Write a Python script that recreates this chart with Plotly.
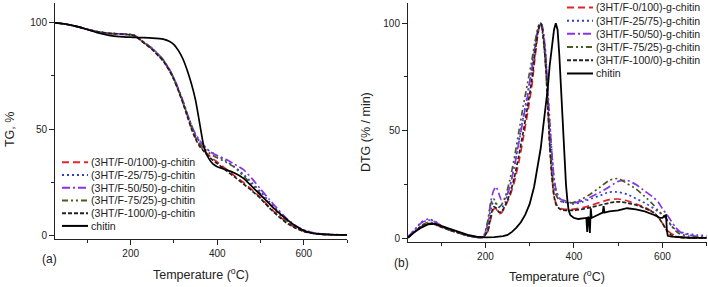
import plotly.graph_objects as go

W, H = 708, 287

names = ["(3HT/F-0/100)-g-chitin", "(3HT/F-25/75)-g-chitin", "(3HT/F-50/50)-g-chitin",
         "(3HT/F-75/25)-g-chitin", "(3HT/F-100/0)-g-chitin", "chitin"]
colors = ["#e3242b", "#2a3ee0", "#8833e8", "#4a5a23", "#222222", "#000000"]
dashes = ["7px,4px", "2px,3px", "8px,3px,2px,3px", "6px,3px,2px,3px,2px,3px", "4px,2px", "solid"]

# ---------------- TG data (panel a) ----------------
tg_temp = [25, 50, 75, 100, 125, 150, 175, 200, 210, 225, 250, 275, 290, 300, 310, 320, 330, 340,
           350, 360, 370, 380, 390, 400, 420, 440, 460, 480, 500, 520, 540, 560, 580, 600, 620, 640, 660, 700]
tg_0_100 = [100, 99.3, 98.3, 96.9, 95.7, 95.0, 94.7, 94.3, 93.8, 91.5, 87.5, 82.3, 77.5, 73.5, 68.5, 63, 57, 51,
            46, 42.3, 39.8, 37.8, 36, 34.5, 31.3, 28, 25, 21.5, 17.8, 13.4, 9.6, 6.2, 3.8, 2.0, 1.1, 0.6, 0.3, 0.1]
tg_25_75 = [100, 99.3, 98.2, 96.8, 95.6, 95.0, 94.7, 94.4, 93.9, 91.6, 87.8, 82.6, 77.8, 73.8, 68.8, 63.5, 57.5, 52,
            47, 44, 42, 40, 38.7, 37.5, 35, 32.3, 28.8, 24.8, 20.5, 16, 11.5, 7.5, 4.5, 2.5, 1.3, 0.7, 0.4, 0.2]
tg_50_50 = [100, 99.3, 98.2, 96.8, 95.6, 95.0, 94.8, 94.5, 94.0, 91.7, 87.9, 82.7, 77.9, 74, 69, 63.7, 57.7, 52,
            47.5, 44.5, 42, 40, 38.5, 37.5, 35.8, 33.5, 31, 26.8, 21.8, 17, 12.3, 8, 4.8, 2.5, 1.3, 0.7, 0.4, 0.2]
tg_75_25 = [100, 99.3, 98.3, 96.9, 95.7, 95.0, 94.7, 94.4, 93.9, 91.6, 87.8, 82.5, 77.7, 73.7, 68.7, 63.3, 57.2, 51.5,
            46.5, 43, 40.8, 39, 37.6, 36.5, 34.5, 32, 28, 24, 19.5, 15, 10.5, 7, 4.2, 2.2, 1.1, 0.6, 0.3, 0.1]
tg_100_0 = [100, 99.3, 98.3, 96.9, 95.7, 95.0, 94.7, 94.3, 93.8, 91.4, 87.3, 82, 77.2, 73.2, 68.2, 62.6, 56.5, 50.3,
            45.3, 41.7, 39.3, 37.2, 35.3, 33.8, 30.6, 27.5, 24.3, 21, 17.4, 13, 9.2, 5.9, 3.5, 1.8, 1.0, 0.5, 0.3, 0.1]
tg_chitin = [100, 99.4, 98.3, 96.8, 95.2, 94.1, 93.5, 93.2, 93.1, 93.0, 92.8, 92.3, 91.2, 89.7, 87, 83.3, 78, 71.5,
             63.5, 52, 41, 36.3, 33.6, 32.3, 30.9, 29.3, 26.9, 23, 19, 15, 11, 7.6, 4.5, 2.3, 1.0, 0.6, 0.4, 0.2]
tg_series = [tg_0_100, tg_25_75, tg_50_50, tg_75_25, tg_100_0, tg_chitin]

# ---------------- DTG data (panel b) ----------------
dtg_temp = [25, 40, 55, 70, 85, 100, 120, 140, 160, 180, 195, 205, 212, 218, 224, 230, 236, 245, 255, 265,
            275, 285, 295, 305, 312, 318, 322, 325, 328, 332, 336, 340, 345, 350, 355, 360, 366, 372, 380, 390,
            400, 420, 440, 460, 480, 500, 520, 540, 560, 580, 590, 600, 610, 620, 630, 640, 660, 680, 700]
dtg_0_100 = [0.5, 3, 5.5, 6.8, 6.5, 5.3, 3.8, 2.5, 1.3, 0.6, 0.5, 3, 9, 13.5, 13.8, 11.5, 11.8, 15, 19.5, 26,
             35, 46, 58, 71, 84, 94, 98.5, 100, 98.5, 92, 83, 68, 45, 30, 20, 16, 14.5, 13.8, 13.5, 13.5,
             13.6, 14.3, 15.5, 16.8, 18, 18.3, 17.5, 16, 14.5, 12, 10, 7, 4, 2.2, 1.2, 0.6, 0.3, 0.2, 0.2]
dtg_25_75 = [0.8, 4, 7.5, 9, 8, 6, 4, 2.6, 1.3, 0.5, 0.6, 6, 13.5, 17, 16, 14.5, 14, 17, 24, 33,
             45, 56, 67, 80, 90, 97, 99.5, 100, 99, 94, 86, 72, 55, 40, 28, 22, 19, 17.5, 16.5, 16.2,
             16, 17, 18.5, 20, 21.5, 21.5, 20.5, 18.5, 16.5, 14, 12.5, 11, 8.5, 6, 4, 3, 2, 1.5, 1.3]
dtg_50_50 = [0.7, 4, 7.2, 8.5, 7.8, 6, 4, 2.6, 1.3, 0.5, 0.6, 7, 17, 22, 24, 21, 18, 18.5, 24, 33,
             44, 55, 66, 79, 89, 96.5, 99.5, 100, 99, 94, 86, 72, 55, 40, 28, 22, 19, 18, 17.5, 16.8,
             16.5, 17.5, 19.5, 21.5, 24, 26.5, 27, 25, 22, 19, 17, 13.8, 11, 8, 5, 3, 1.5, 1, 0.8]
dtg_75_25 = [0.5, 3, 6, 7.5, 7, 5.5, 3.8, 2.5, 1.3, 0.5, 0.8, 8, 16, 18.5, 16.5, 14.6, 15.5, 19.5, 27, 37,
             49, 61, 72, 83, 91.5, 97, 100, 99.5, 97, 90, 80, 66, 46, 32, 24, 20, 18, 17, 16.8, 16.5,
             16.8, 18.5, 21, 24, 27, 27.8, 25.5, 23, 19.5, 15.5, 13, 11, 9, 6, 3.5, 2, 1, 0.6, 0.4]
dtg_100_0 = [0.5, 3, 5.5, 6.8, 6.5, 5.3, 3.8, 2.5, 1.3, 0.6, 0.5, 3.5, 10, 14.6, 14.2, 12.3, 12.3, 15.5, 20.5, 28,
             38, 49, 61, 74, 86, 95, 99, 100, 98, 91, 81, 66, 44, 29, 19.5, 15.5, 14, 13.3, 13, 13,
             13, 13.6, 14.5, 15.5, 16.5, 17, 16.5, 15.5, 14, 12, 10, 7, 3.5, 1.5, 0.8, 0.4, 0.3, 0.2, 0.2]

ch_temp = [25, 40, 55, 70, 85, 100, 120, 140, 160, 180, 200, 220, 240, 250, 260, 270, 280, 290, 300, 310,
           318, 325, 330, 335, 338, 341, 345, 350, 355, 359, 363, 367, 370, 374, 378, 382, 385, 388, 392, 400,
           410, 420, 428, 430, 432, 434, 436, 438, 440, 450, 460, 465, 467, 469, 480, 500, 520, 540, 560, 580,
           595, 600, 605, 608, 610, 612, 620, 640, 660, 700]
dtg_chitin = [0.3, 3, 5, 6.5, 6.8, 5.8, 4.2, 2.8, 1.6, 0.8, 0.5, 0.6, 1.0, 1.6, 3, 5, 7.5, 11, 16, 24,
              33, 42, 51, 60, 64, 70, 80, 90, 97, 100, 97, 85, 72, 55, 38, 25, 18, 13, 10.8, 9.5,
              9, 9.2, 9.5, 3, 10, 9.5, 2.5, 14, 9.5, 10.5, 11.5, 12, 15, 12, 12.5, 13, 14, 13.5, 12.5, 11,
              9.5, 9.5, 10.5, 10.8, 4, 1.2, 0.8, 0.4, 0.3, 0.2]
dtg_series = [dtg_0_100, dtg_25_75, dtg_50_50, dtg_75_25, dtg_100_0]

fig = go.Figure()

for i in range(6):
    fig.add_trace(go.Scatter(x=tg_temp, y=tg_series[i], mode="lines", name=names[i], showlegend=False,
                             line=dict(color=colors[i], width=1.7, dash=dashes[i], shape="spline", smoothing=0.6),
                             xaxis="x", yaxis="y"))
for i in range(5):
    fig.add_trace(go.Scatter(x=dtg_temp, y=dtg_series[i], mode="lines", name=names[i], showlegend=False,
                             line=dict(color=colors[i], width=1.7, dash=dashes[i], shape="spline", smoothing=0.6),
                             xaxis="x2", yaxis="y2"))
fig.add_trace(go.Scatter(x=ch_temp, y=dtg_chitin, mode="lines", name=names[5], showlegend=False,
                         line=dict(color=colors[5], width=1.8), xaxis="x2", yaxis="y2"))


def px(x):
    return x / W


def py(y):
    return 1 - y / H


font = "Liberation Sans, Arial, sans-serif"
axis_common = dict(showline=True, linecolor="#222", linewidth=1, ticks="outside", ticklen=5, tickwidth=1,
                   tickcolor="#222", showgrid=False, zeroline=False, mirror=False,
                   tickfont=dict(family=font, size=10, color="#222"))

fig.update_layout(
    width=W, height=H, margin=dict(l=0, r=0, t=0, b=0), paper_bgcolor="white", plot_bgcolor="white",
    showlegend=False,
    xaxis=dict(domain=[px(55), px(347)], range=[25, 700], anchor="y", tickvals=[200, 400, 600],
               minor=dict(tickvals=[100, 300, 500, 700], ticklen=3, ticks="outside", tickcolor="#222"),
               **axis_common),
    yaxis=dict(domain=[py(240.7), py(3)], range=[-1.73, 109.3], anchor="x", tickvals=[0, 50, 100],
               minor=dict(tickvals=[25, 75], ticklen=3, ticks="outside", tickcolor="#222"), **axis_common),
    xaxis2=dict(domain=[px(408), px(706.7)], range=[25, 700], anchor="y2", tickvals=[200, 400, 600],
                minor=dict(tickvals=[100, 300, 500, 700], ticklen=3, ticks="outside", tickcolor="#222"),
                **axis_common),
    yaxis2=dict(domain=[py(243.3), py(3)], range=[-1.5, 109.4], anchor="x2", tickvals=[0, 50, 100],
                minor=dict(tickvals=[25, 75], ticklen=3, ticks="outside", tickcolor="#222"), **axis_common),
)

ann = []
shapes = []
tfont = dict(family=font, size=12.5, color="#222")
ann.append(dict(text="Temperature (<sup>o</sup>C)", x=px(201), y=py(276), xref="paper", yref="paper",
                showarrow=False, font=tfont, xanchor="center", yanchor="middle"))
ann.append(dict(text="Temperature (<sup>o</sup>C)", x=px(557), y=py(277.5), xref="paper", yref="paper",
                showarrow=False, font=tfont, xanchor="center", yanchor="middle"))
ann.append(dict(text="TG, %", x=px(10), y=py(131), xref="paper", yref="paper", textangle=-90,
                showarrow=False, font=tfont, xanchor="center", yanchor="middle"))
ann.append(dict(text="DTG (% / min)", x=px(366), y=py(133), xref="paper", yref="paper", textangle=-90,
                showarrow=False, font=tfont, xanchor="center", yanchor="middle"))
ann.append(dict(text="(a)", x=px(40), y=py(260.5), xref="paper", yref="paper", showarrow=False,
                font=dict(family=font, size=12, color="#222"), xanchor="left", yanchor="middle"))
ann.append(dict(text="(b)", x=px(392), y=py(265), xref="paper", yref="paper", showarrow=False,
                font=dict(family=font, size=12, color="#222"), xanchor="left", yanchor="middle"))

# legends built from the series names/colours/dashes
lfont = dict(family=font, size=10.6, color="#222")
for (lx0, lx1, tx, ty0, dy) in [(62, 88, 89, 163.5, 12.8), (567, 593, 594, 7.5, 13.3)]:
    for i in range(6):
        yy = ty0 + dy * i
        shapes.append(dict(type="line", xref="paper", yref="paper", x0=px(lx0), x1=px(lx1), y0=py(yy), y1=py(yy),
                           line=dict(color=colors[i], width=2, dash=dashes[i])))
        ann.append(dict(text=names[i], x=px(tx), y=py(yy), xref="paper", yref="paper", showarrow=False,
                        font=lfont, xanchor="left", yanchor="middle"))

fig.update_layout(annotations=ann, shapes=shapes)
fig.write_html("out.html", config={"displayModeBar": False},
               post_script="document.body.style.margin='0';document.body.style.overflow='hidden';")
